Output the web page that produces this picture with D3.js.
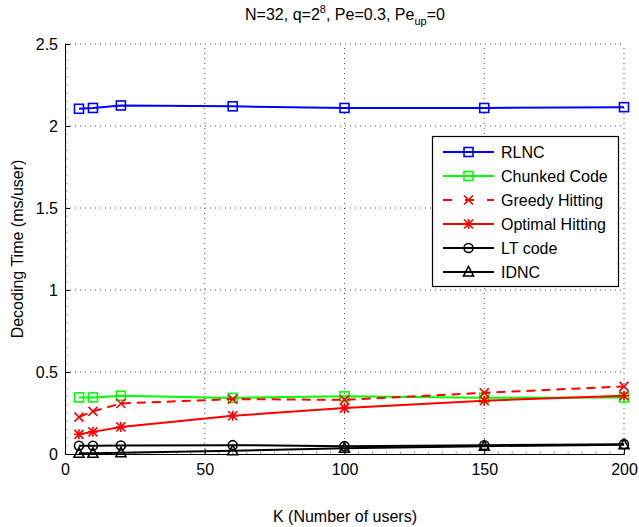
<!DOCTYPE html>
<html><head><meta charset="utf-8">
<script src="https://cdn.jsdelivr.net/npm/d3@7"></script>
<style>body{margin:0;background:#fff}text{font-family:"Liberation Sans",Arial,sans-serif}</style>
</head><body><svg id="c" width="639" height="527"></svg>
<script>
const kValues = [5, 10, 20, 60, 100, 150, 200];
const rlnc = [2.105, 2.11, 2.125, 2.12, 2.11, 2.11, 2.115];
const chunked = [0.345, 0.345, 0.355, 0.342, 0.352, 0.343, 0.345];
const greedy = [0.225, 0.26, 0.308, 0.335, 0.33, 0.373, 0.412];
const optimal = [0.12, 0.135, 0.165, 0.233, 0.28, 0.325, 0.355];
const ltcode = [0.05, 0.05, 0.052, 0.054, 0.048, 0.053, 0.06];
const idnc = [0.005, 0.005, 0.008, 0.02, 0.035, 0.048, 0.057];
const xTicks = [0, 50, 100, 150, 200];
const yTicks = [0, 0.5, 1, 1.5, 2, 2.5];
const seriesNames = ["RLNC", "Chunked Code", "Greedy Hitting", "Optimal Hitting", "LT code", "IDNC"];
const seriesColors = ["#0000ff", "#00ff00", "#ff0000", "#ff0000", "#000000", "#000000"];
const seriesMarkers = ["square", "square", "x", "star", "circle", "triangle"];
const seriesDashed = [false, false, true, false, false, false];
const seriesData = [rlnc, chunked, greedy, optimal, ltcode, idnc];

const FS = 16;
const svg = d3.select("#c");
const L = 65, R = 624, T = 44, B = 454;
const x = d3.scaleLinear().domain([0, 200]).range([L, R]);
const y = d3.scaleLinear().domain([0, 2.5]).range([B, T]);

// grid
const g = svg.append("g");
xTicks.slice(1).forEach(t => g.append("line").attr("x1", x(t)).attr("x2", x(t)).attr("y1", B).attr("y2", T)
  .attr("stroke", "#000").attr("stroke-width", 0.7).attr("stroke-dasharray", "1,4"));
yTicks.slice(1).forEach(t => g.append("line").attr("x1", L).attr("x2", R).attr("y1", y(t)).attr("y2", y(t))
  .attr("stroke", "#000").attr("stroke-width", 0.7).attr("stroke-dasharray", "1,4"));

// axes
const xAxis = d3.axisBottom(x).tickValues(xTicks).tickSize(-5).tickPadding(10).tickFormat(d3.format("d"));
const yAxis = d3.axisLeft(y).tickValues(yTicks).tickSize(-5).tickPadding(7).tickFormat(d => d);
const gx = svg.append("g").attr("transform", `translate(0,${B})`).call(xAxis);
const gy = svg.append("g").attr("transform", `translate(${L},0)`).call(yAxis);
[gx, gy].forEach(a => {
  a.select(".domain").attr("stroke", "#000").attr("stroke-width", 1);
  a.selectAll("text").attr("font-size", FS).attr("fill", "#000");
});
// minor ticks
const xm = d3.range(0, 201, 5), ym = d3.range(0, 2.501, 0.05);
svg.append("g").selectAll("line").data(xm).join("line").attr("x1", d => x(d)).attr("x2", d => x(d))
  .attr("y1", B).attr("y2", B - 2.5).attr("stroke", "#555").attr("stroke-width", 0.6);
svg.append("g").selectAll("line").data(ym).join("line").attr("y1", d => y(d)).attr("y2", d => y(d))
  .attr("x1", L).attr("x2", L + 2.5).attr("stroke", "#555").attr("stroke-width", 0.6);

function drawMarker(sel, type, cx, cy, color) {
  const s = 4.5;
  if (type === "square") sel.append("rect").attr("x", cx - s).attr("y", cy - s).attr("width", 2 * s).attr("height", 2 * s)
    .attr("fill", "none").attr("stroke", color).attr("stroke-width", 1.6);
  else if (type === "circle") sel.append("circle").attr("cx", cx).attr("cy", cy).attr("r", s)
    .attr("fill", "none").attr("stroke", color).attr("stroke-width", 1.6);
  else if (type === "triangle") sel.append("path")
    .attr("d", `M${cx},${cy - s - 1}L${cx + s + 0.5},${cy + s - 0.5}L${cx - s - 0.5},${cy + s - 0.5}Z`)
    .attr("fill", "none").attr("stroke", color).attr("stroke-width", 1.6);
  else if (type === "x") sel.append("path")
    .attr("d", `M${cx - s},${cy - s}L${cx + s},${cy + s}M${cx - s},${cy + s}L${cx + s},${cy - s}`)
    .attr("stroke", color).attr("stroke-width", 1.6);
  else if (type === "star") sel.append("path")
    .attr("d", `M${cx - s},${cy - s}L${cx + s},${cy + s}M${cx - s},${cy + s}L${cx + s},${cy - s}M${cx},${cy - s - 0.5}L${cx},${cy + s + 0.5}M${cx - s - 0.5},${cy}L${cx + s + 0.5},${cy}`)
    .attr("stroke", color).attr("stroke-width", 1.6);
}

const line = d3.line().x(d => x(d[0])).y(d => y(d[1]));
const plot = svg.append("g");
seriesData.forEach((vals, i) => {
  const pts = kValues.map((k, j) => [k, vals[j]]);
  plot.append("path").attr("d", line(pts)).attr("fill", "none").attr("stroke", seriesColors[i])
    .attr("stroke-width", 2).attr("stroke-dasharray", seriesDashed[i] ? "9,6" : null);
  pts.forEach(p => drawMarker(plot, seriesMarkers[i], x(p[0]), y(p[1]), seriesColors[i]));
});

// legend
const lg = svg.append("g");
lg.append("rect").attr("x", 432.5).attr("y", 136.5).attr("width", 186).attr("height", 150)
  .attr("fill", "#fff").attr("stroke", "#000").attr("stroke-width", 1.2);
seriesNames.forEach((n, i) => {
  const cy = 152 + i * 24;
  lg.append("line").attr("x1", 443).attr("x2", 494).attr("y1", cy).attr("y2", cy)
    .attr("stroke", seriesColors[i]).attr("stroke-width", 2).attr("stroke-dasharray", seriesDashed[i] ? "9,13" : null);
  drawMarker(lg, seriesMarkers[i], 468.5, cy, seriesColors[i]);
  lg.append("text").attr("x", 501).attr("y", cy + 6).attr("font-size", FS).text(n);
});

// title & labels
const title = svg.append("text").attr("x", 345).attr("y", 20).attr("text-anchor", "middle").attr("font-size", FS);
title.append("tspan").text("N=32, q=2");
title.append("tspan").attr("dy", -7).attr("font-size", 11).text("8");
title.append("tspan").attr("dy", 7).text(", Pe=0.3, Pe");
title.append("tspan").attr("dy", 5).attr("font-size", 11).text("up");
title.append("tspan").attr("dy", -5).text("=0");
svg.append("text").attr("x", 345).attr("y", 522).attr("text-anchor", "middle").attr("font-size", FS).text("K (Number of users)");
svg.append("text").attr("transform", "translate(23,249) rotate(-90)").attr("text-anchor", "middle").attr("font-size", FS).text("Decoding Time (ms/user)");
</script></body></html>
